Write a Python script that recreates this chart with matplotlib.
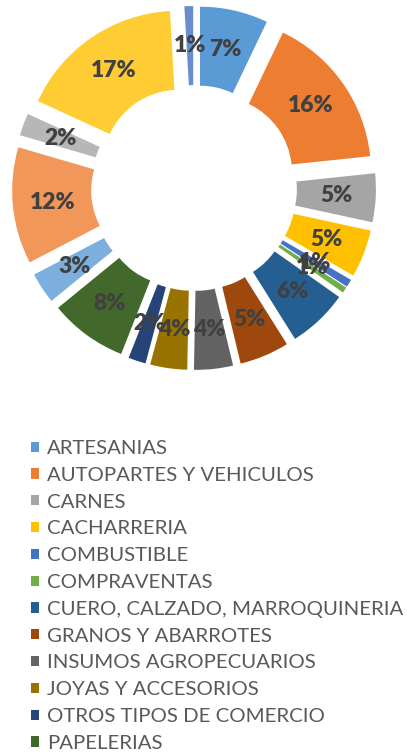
import matplotlib
matplotlib.use("Agg")
import matplotlib.pyplot as plt
from matplotlib.patches import Patch

# ---- data ----
categories = [
    "ARTESANIAS", "AUTOPARTES Y VEHICULOS", "CARNES", "CACHARRERIA",
    "COMBUSTIBLE", "COMPRAVENTAS", "CUERO, CALZADO, MARROQUINERIA",
    "GRANOS Y ABARROTES", "INSUMOS AGROPECUARIOS", "JOYAS Y ACCESORIOS",
    "OTROS TIPOS DE COMERCIO", "PAPELERIAS",
    "CATEGORIA 13", "CATEGORIA 14", "CATEGORIA 15", "CATEGORIA 16", "CATEGORIA 17",
]
values = [7.0, 16.0, 5.0, 4.9, 0.8, 0.6, 6.2, 5.1, 4.0, 3.8, 1.8, 8.0,
          3.2, 12.0, 2.3, 17.0, 0.9]
colors = ["#5B9BD5", "#ED7D31", "#A5A5A5", "#FFC000", "#4472C4", "#70AD47",
          "#255E91", "#9E480E", "#636363", "#997300", "#264478", "#43682B",
          "#7CAFDD", "#F1975A", "#B7B7B7", "#FFCD33", "#698ED0"]
legend_count = 12

W, H = 407, 753
DPI = 100
fig = plt.figure(figsize=(W / DPI, H / DPI), dpi=DPI)
fig.patch.set_facecolor("white")

R_px = 155.0
L = 1.25
cx, cy = 194.0, 188.0
ax_w = 2 * L * R_px
ax = fig.add_axes([(cx - ax_w / 2) / W, (H - cy - ax_w / 2) / H, ax_w / W, ax_w / H])
ax.set_xlim(-L, L)
ax.set_ylim(-L, L)
ax.set_aspect("equal")
ax.axis("off")

explode = [0.174] * len(values)
wedges, texts, autotexts = ax.pie(
    values, colors=colors, explode=explode, startangle=90, counterclock=False,
    radius=1.0, wedgeprops=dict(width=0.51, linewidth=0),
    autopct=lambda p: f"{p:.0f}%", pctdistance=0.745,
    textprops=dict(color="#404040", fontsize=16.5, fontweight="heavy",
                   family=["Lato", "DejaVu Sans"]),
)
ax.set_xlim(-L, L)
ax.set_ylim(-L, L)

handles = [Patch(facecolor=c, edgecolor="none") for c in colors[:legend_count]]
leg = fig.legend(
    handles, categories[:legend_count], loc="upper left",
    bbox_to_anchor=(31 / W, (H - 440) / H), frameon=False,
    prop=dict(family=["Lato", "DejaVu Sans"], size=14.7),
    handlelength=0.4, handleheight=0.4, handletextpad=0.38,
    labelspacing=0.48, borderpad=0, borderaxespad=0,
)
for t in leg.get_texts():
    t.set_color("#595959")

fig.savefig("out.png", dpi=DPI, facecolor="white")
